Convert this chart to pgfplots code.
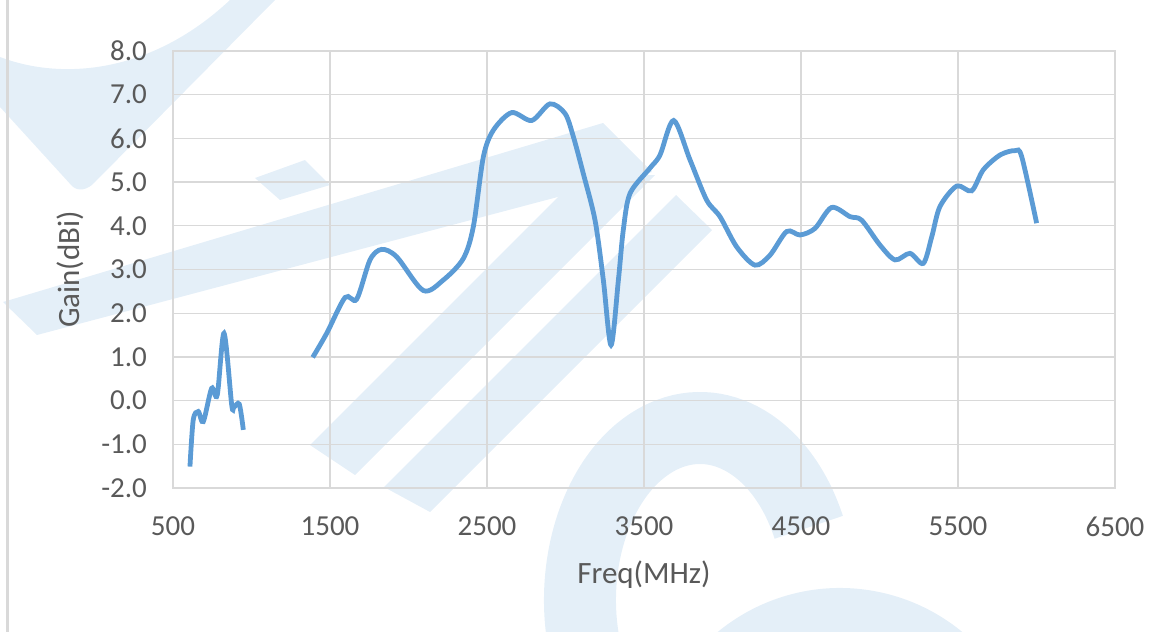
\documentclass[border=0pt]{standalone}
\usepackage{pgfplots}
\pgfplotsset{compat=1.18}
\usepackage{fontspec}
\setmainfont{Carlito}
\definecolor{gline}{HTML}{5B9BD5}
\definecolor{gridc}{HTML}{D9D9D9}
\definecolor{txt}{HTML}{595959}
\definecolor{wm}{HTML}{E4EFF8}
\begin{document}
\begin{tikzpicture}
% page, in pixels of the reference (y downwards)
\begin{scope}[x=0.5pt,y=-0.5pt]
  \useasboundingbox (0,0) rectangle (1169,632);
  \clip (0,0) rectangle (1169,632);
  % watermark
  \fill[wm] (3,302) -- (603,123) -- (652,172) -- (37,335) -- cycle;
  \fill[wm] (310,445) -- (580,175) -- (655,175) -- (355,475) -- cycle;
  \fill[wm] (384,487) -- (676,195) -- (712,230) -- (430,512) -- cycle;
  \fill[wm] (255,178) -- (305,160) -- (330,185) -- (280,200) -- cycle;
  \fill[wm] (0,57) .. controls (60,80) and (150,75) .. (230,0) -- (275,0)
    -- (95,182) .. controls (88,190) and (78,192) .. (72,186) -- (0,107) -- cycle;
  \draw[wm, line width=36pt] (700,600) ++(160:120 and 172)
    arc[start angle=160, end angle=335, x radius=120, y radius=172];
  \draw[wm, line width=22pt] (840,780) ++(195:170)
    arc[start angle=195, end angle=330, radius=170];
  \draw[gridc, line width=1.5pt] (7,0) -- (7,632);
\end{scope}
\begin{axis}[
    at={(86.5pt,-244pt)}, anchor=south west,
    scale only axis, width=471pt, height=218.5pt,
    xmin=500, xmax=6500, ymin=-2, ymax=8,
    xtick={500,1500,...,6500}, ytick={-2,-1,...,8},
    grid=major,
    grid style={gridc, line width=0.6pt},
    axis line style={gridc, line width=0.6pt},
    tick style={draw=none},
    /pgf/number format/assume math mode=true,
    /pgf/number format/1000 sep={},
    ticklabel style={font=\fontsize{14.5}{16}\selectfont, text=txt},
    xticklabel style={yshift=-11pt},
    yticklabel style={xshift=-9.5pt},
    yticklabel={\pgfmathprintnumber[fixed,fixed zerofill,precision=1]{\tick}},
    label style={font=\fontsize{15.5}{18}\selectfont, text=txt},
    xlabel={Freq(MHz)}, ylabel={Gain(dBi)},
    xlabel style={at={(axis description cs:0.5,-0.199)}, anchor=center},
    ylabel style={at={(axis description cs:-0.109,0.5)}, anchor=center, rotate=0},
  ]
  % sub-GHz band
  \addplot[gline, line width=2.4pt, smooth, tension=0.5] coordinates {
    (608,-1.51) (629,-0.44) (661,-0.25) (693,-0.48) (746,0.28) (782,0.13)
    (825,1.54) (874,-0.10) (888,-0.15) (922,-0.08) (948,-0.67)
  };
  % 1.4 - 6 GHz band
  \addplot[gline, line width=2.4pt, smooth, tension=0.5] coordinates {
    (1390,0.99) (1479,1.54) (1596,2.36) (1670,2.32) (1755,3.22) (1829,3.46)
    (1925,3.29) (2094,2.52) (2222,2.76) (2349,3.25) (2413,3.98) (2477,5.58)
    (2541,6.19) (2657,6.59) (2785,6.41) (2901,6.79) (2997,6.57) (3050,6.04)
    (3113,5.20) (3188,4.13) (3241,2.76) (3290,1.27) (3337,2.76) (3368,3.90)
    (3411,4.74) (3538,5.32) (3602,5.62) (3689,6.41) (3793,5.51) (3899,4.59)
    (3984,4.21) (4090,3.52) (4207,3.10) (4303,3.33) (4409,3.87) (4494,3.79)
    (4589,3.94) (4695,4.42) (4812,4.21) (4886,4.13) (5003,3.56) (5099,3.22)
    (5194,3.37) (5279,3.14) (5333,3.75) (5385,4.44) (5492,4.91) (5587,4.80)
    (5661,5.28) (5768,5.62) (5863,5.72) (5906,5.58) (6001,4.06)
  };
\end{axis}
\end{tikzpicture}
\end{document}
